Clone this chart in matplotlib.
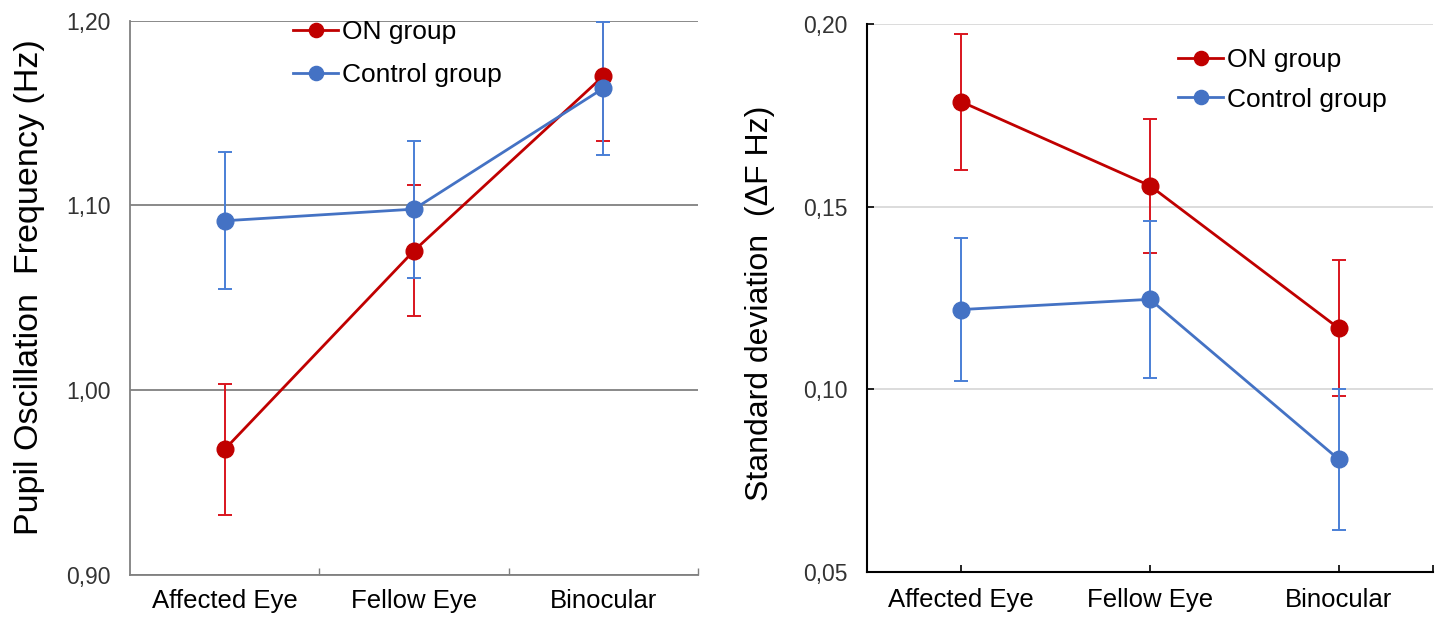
import matplotlib
matplotlib.use("Agg")
import matplotlib.pyplot as plt
from matplotlib.ticker import FuncFormatter

plt.rcParams['font.family'] = ['Liberation Sans', 'DejaVu Sans']

categories = ["Affected Eye", "Fellow Eye", "Binocular"]
series_names = ["ON group", "Control group"]

# Left panel: pupil oscillation frequency (Hz)
freq_on = [0.968, 1.0755, 1.170]
freq_on_err = [0.0355, 0.0355, 0.0350]
freq_ctrl = [1.0917, 1.098, 1.1634]
freq_ctrl_err = [0.037, 0.037, 0.036]

# Right panel: standard deviation (ΔF Hz)
sd_on = [0.1787, 0.1557, 0.1167]
sd_on_err = [0.0186, 0.0183, 0.0186]
sd_ctrl = [0.1218, 0.1246, 0.0808]
sd_ctrl_err = [0.0196, 0.0215, 0.0193]

left_yticks = [0.90, 1.00, 1.10, 1.20]
right_yticks = [0.05, 0.10, 0.15, 0.20]

RED = "#C00000"
RED_ERR = "#D9151E"
BLUE = "#4472C4"
BLUE_ERR = "#4A7FD6"

fig = plt.figure(figsize=(14.4, 6.17), dpi=100)
axL = fig.add_axes([0.0903, 0.0681, 0.3944, 0.8984])
axR = fig.add_axes([0.6021, 0.0734, 0.3930, 0.8877])

comma = FuncFormatter(lambda v, p: f"{v:.2f}".replace(".", ","))
x = list(range(len(categories)))

def draw(ax, on, on_err, ctrl, ctrl_err):
    for vals, errs, c, ce, name in [(on, on_err, RED, RED_ERR, series_names[0]),
                                    (ctrl, ctrl_err, BLUE, BLUE_ERR, series_names[1])]:
        ax.errorbar(x, vals, yerr=errs, fmt='none', ecolor=ce, elinewidth=1.4,
                    capsize=5, capthick=1.4, zorder=3)
        ax.plot(x, vals, color=c, lw=2.0, marker='o', markersize=12,
                markeredgecolor=c, markerfacecolor=c, label=name, zorder=4)

# Left panel
draw(axL, freq_on, freq_on_err, freq_ctrl, freq_ctrl_err)
axL.set_xlim(-0.5, 2.5)
axL.set_ylim(0.90, 1.20)
axL.set_yticks(left_yticks)
axL.yaxis.set_major_formatter(comma)
axL.set_xticks(x)
axL.set_xticklabels(categories)
axL.set_xticks([0.5, 1.5, 2.5], minor=True)
axL.tick_params(axis='x', which='major', length=0, labelsize=18.5, pad=10)
axL.tick_params(axis='x', which='minor', direction='in', length=5, color='#808080', width=1)
axL.tick_params(axis='y', length=0, labelsize=16.5, pad=14, labelcolor='#333333')
axL.grid(axis='y', color='#808080', lw=1.3)
axL.set_axisbelow(True)
for s in ['top', 'right']:
    axL.spines[s].set_visible(False)
for s in ['left', 'bottom']:
    axL.spines[s].set_color('#808080')
    axL.spines[s].set_linewidth(1.3)
axL.set_ylabel("Pupil Oscillation  Frequency (Hz)", fontsize=24.5)
axL.yaxis.set_label_coords(-0.150, 0.52)
legL = axL.legend(loc='upper left', bbox_to_anchor=(0.246, 1.044), frameon=False,
                  fontsize=19, handlelength=1.7, handletextpad=0.15, labelspacing=0.72,
                  markerscale=0.85)

# Right panel
draw(axR, sd_on, sd_on_err, sd_ctrl, sd_ctrl_err)
axR.set_xlim(-0.5, 2.5)
axR.set_ylim(0.05, 0.20)
axR.set_yticks(right_yticks)
axR.yaxis.set_major_formatter(comma)
axR.set_xticks(x)
axR.set_xticklabels(categories)
axR.set_xticks([2.5], minor=True)
axR.tick_params(axis='x', which='both', direction='in', length=5, color='black', width=1.2,
                labelsize=18.5, pad=12)
axR.tick_params(axis='y', direction='in', length=5, color='black', width=1.2,
                labelsize=16.5, pad=14, labelcolor='#333333')
axR.grid(axis='y', color='#D9D9D9', lw=1.3)
axR.set_axisbelow(True)
for s in ['top', 'right']:
    axR.spines[s].set_visible(False)
for s in ['left', 'bottom']:
    axR.spines[s].set_color('black')
    axR.spines[s].set_linewidth(1.5)
axR.set_ylabel("Standard deviation  (\u0394F Hz)", fontsize=23)
axR.yaxis.set_label_coords(-0.163, 0.49)
legR = axR.legend(loc='upper left', bbox_to_anchor=(0.508, 0.999), frameon=False,
                  fontsize=19, handlelength=1.7, handletextpad=0.15, labelspacing=0.58,
                  markerscale=0.85)

fig.savefig("out.png", dpi=100)
